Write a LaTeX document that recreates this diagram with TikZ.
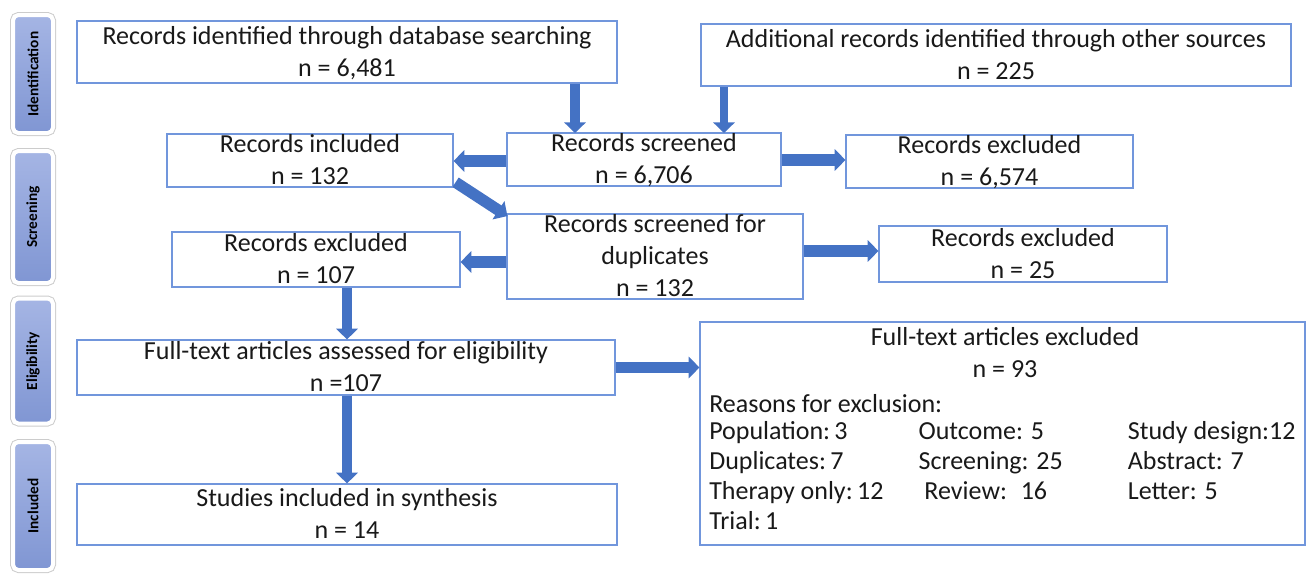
\documentclass[tikz,border=0pt]{standalone}
\usepackage{fontspec}
\setmainfont{Carlito}
\usepackage{tikz}
\usetikzlibrary{arrows.meta, shadows, matrix}

\definecolor{boxBlue}{HTML}{7196DC}
\definecolor{flowBlue}{HTML}{4472C4}
\definecolor{tabLight}{HTML}{A5B5E4}
\definecolor{tabDark}{HTML}{8096D3}

\begin{document}
\begin{tikzpicture}[x=0.75pt, y=-0.75pt,
  record/.style={rectangle, draw=boxBlue, line width=0.9pt, fill=white,
    align=flush center, inner sep=0pt, text=black!90,
    text height=36.5pt, text depth=0pt,
    font=\fontsize{19.5}{24}\selectfont},
  %
  label/.style={inner sep=0pt, text=black!90,
    font=\fontsize{19.5}{24}\selectfont},
  %
  stage/.style={rectangle, rounded corners=4pt, draw=white, line width=3pt,
    preaction={draw=gray!40, line width=4.5pt},
    top color=tabLight, bottom color=tabDark, rotate=90, inner sep=0pt,
    minimum height=30pt, font=\fontsize{11.5}{13}\selectfont\bfseries,
    drop shadow={opacity=0.3, shadow xshift=0.8pt, shadow yshift=-0.8pt}},
  %
  reason/.style={text width=157pt, inner sep=0pt, align=flush left,
    text height=14pt, text depth=8.5pt, text=black!90,
    font=\fontsize{19.5}{24}\selectfont},
  %
  flow/.style={draw=flowBlue, line width=7.5pt,
    -{Triangle[width=16pt, length=8pt]}}
  ]

  \useasboundingbox (0,0) rectangle (1306,575);

  %%%%%%%%%%%%%%%%%%%%%%%%%%%%%%% stages
  \node [stage, minimum width=88.5pt] (identification) at (33,74) {Identification};
  \node [stage, minimum width=99pt] (screening) at (33,217) {Screening};
  \node [stage, minimum width=93.75pt] (eligibility) at (33,361) {Eligibility};
  \node [stage, minimum width=96pt] (included) at (33,506) {Included};

  %%%%%%%%%%%%%%%%%%%%%%%%%%%%%%% records
  \node [record, minimum width=405pt, minimum height=46.5pt] (dbSearch)
    at (347,52) {Records identified through database searching\\n = 6,481};
  \node [record, minimum width=442.5pt, minimum height=46.5pt] (otherSrc)
    at (996,55) {Additional records identified through other sources\\n = 225};
  \node [record, minimum width=214.5pt, minimum height=39.75pt] (recIncl)
    at (310,160.5) {Records included\\n = 132};
  \node [record, minimum width=205.5pt, minimum height=39.75pt] (recScreen)
    at (644,159.5) {Records screened\\n = 6,706};
  \node [record, minimum width=215.25pt, minimum height=39.75pt] (recExclA)
    at (989.5,161.5) {Records excluded\\n = 6,574};
  \node [record, minimum width=216pt, minimum height=41.25pt] (recExclB)
    at (316,259.5) {Records excluded\\n = 107};
  \node [record, minimum width=222pt, minimum height=63.75pt, text height=60.5pt]
    (dupScreen) at (655,256.5) {Records screened for\\duplicates\\n = 132};
  \node [record, minimum width=216pt, minimum height=42pt] (recExclC)
    at (1023,254) {Records excluded\\n = 25};
  \node [record, minimum width=403.5pt, minimum height=41.25pt] (fullText)
    at (346,367.5) {Full-text articles assessed for eligibility\\n =107};
  \node [record, minimum width=453.75pt, minimum height=167.25pt, text height=0pt]
    (fullExcl) at (1002.5,433.5) {};
  \node [record, minimum width=405pt, minimum height=45.75pt] (studies)
    at (347,514.5) {Studies included in synthesis\\n = 14};

  %%%%%%%%%%%%%%%%%%%%%%%%%%%%%%% exclusion reasons
  \node [label, anchor=base] (exclTitle) at (1005,345)
    {Full-text articles excluded};
  \node [label, anchor=base] (exclCount) at (1005,377) {n = 93};
  \node [label, anchor=base west] (exclHead) at (709,412)
    {Reasons for exclusion:};
  \matrix [matrix of nodes, nodes={reason}, column sep=0pt, row sep=0pt,
    inner sep=0pt, anchor=north west] (reasons) at (709,421) {
    Population:\,3 & Outcome: 5 & Study design:12 \\
    Duplicates:\,7 & Screening: 25 & Abstract: 7 \\
    Therapy only:\,12 & \ Review: \ 16 & Letter: 5 \\
    Trial:\,1 & & \\
  };

  %%%%%%%%%%%%%%%%%%%%%%%%%%%%%%% connectors
  \coordinate (dbTip) at (575,133);
  \coordinate (srcTip) at (724,133);
  \coordinate (leftRow) at (0,161);
  \coordinate (rightRow) at (0,160);
  \coordinate (dupLeft) at (0,262);
  \coordinate (dupRight) at (0,251);
  \coordinate (downCol) at (347,0);

  \draw [flow] (dbSearch.south -| dbTip) -- (dbTip);
  \draw [flow, line width=6pt] (otherSrc.south -| srcTip) -- (srcTip);
  \draw [flow, line width=8.5pt] (recScreen.west |- leftRow) -- (recIncl.east |- leftRow);
  \draw [flow, line width=8.5pt] (recScreen.east |- rightRow) -- (recExclA.west |- rightRow);
  \draw [flow, line width=8.5pt] ([xshift=1.5pt, yshift=4pt]recIncl.south east)
    -- ([xshift=0.75pt, yshift=-2pt]dupScreen.north west);
  \draw [flow, line width=8.5pt] (dupScreen.west |- dupLeft) -- (recExclB.east |- dupLeft);
  \draw [flow, line width=8.5pt] (dupScreen.east |- dupRight) -- (recExclC.west |- dupRight);
  \draw [flow] (recExclB.south -| downCol) -- (fullText.north -| downCol);
  \draw [flow, line width=8.5pt] (fullText.east) -- (fullText.east -| fullExcl.west);
  \draw [flow] (fullText.south -| downCol) -- (studies.north -| downCol);

\end{tikzpicture}
\end{document}
